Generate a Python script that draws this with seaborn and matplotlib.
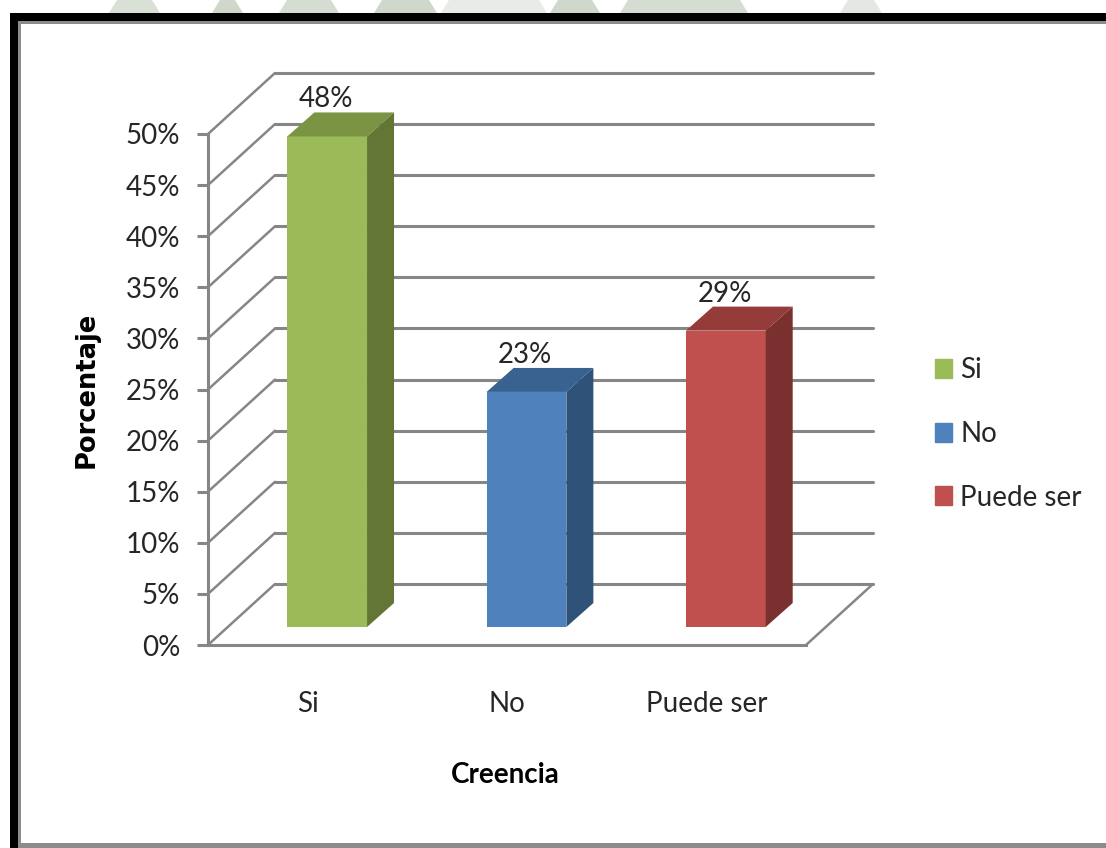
import matplotlib
matplotlib.use('Agg')
import matplotlib.pyplot as plt
import seaborn as sns
import pandas as pd
from matplotlib.patches import Polygon, Rectangle

categorias = ['Si', 'No', 'Puede ser']
porcentajes = [48, 23, 29]
etiquetas = ['48%', '23%', '29%']
colores = ['#9BBB59', '#4F81BD', '#C0504D']
colores_techo = ['#7A9443', '#3A6291', '#953B39']
colores_lado = ['#647636', '#2F5279', '#7A302E']
y_ticks = [0, 5, 10, 15, 20, 25, 30, 35, 40, 45, 50]
y_tick_labels = ['0%', '5%', '10%', '15%', '20%', '25%', '30%', '35%', '40%', '45%', '50%']

W, H = 1106, 848
GRIS = '#868686'
TEXTO = '#262626'

sns.set_theme(style='white')
plt.rcParams['font.family'] = ['Lato', 'DejaVu Sans']

fig = plt.figure(figsize=(W / 100, H / 100), dpi=100)
fig.patch.set_facecolor('white')

# front plane of the fake 3d box, pixels from the reference
ax = fig.add_axes([208 / W, 1 - 645 / H, (806 - 208) / W, (645 - 134) / H])
ax.patch.set_alpha(0)

df = pd.DataFrame({'Creencia': categorias, 'Porcentaje': porcentajes})
sns.barplot(data=df, x='Creencia', y='Porcentaje', hue='Creencia', palette=colores,
            width=0.4, saturation=1, legend=False, ax=ax, zorder=3)
ax.set_xlim(-0.5, 2.5)
ax.set_ylim(0, 50)

px_x = (806 - 208) / 3
px_y = (645 - 134) / 50

# wall depth and bar depth, converted to data units
fondo_x, fondo_y = 67 / px_x, 61 / px_y
lado_x, lado_y = 27 / px_x, 24 / px_y
salto_x, salto_y = 19.5 / px_x, 18 / px_y

for v in y_ticks:
    ax.plot([-0.5, -0.5 + fondo_x], [v, v + fondo_y], color=GRIS, lw=1.8, clip_on=False, zorder=1)
    ax.plot([-0.5 + fondo_x, 2.5 + fondo_x], [v + fondo_y, v + fondo_y], color=GRIS, lw=2.2,
            clip_on=False, zorder=1)
ax.plot([2.5, 2.5 + fondo_x], [0, fondo_y], color=GRIS, lw=1.8, clip_on=False, zorder=1)

for i, p in enumerate(ax.patches):
    p.set_x(p.get_x() + salto_x)
    p.set_y(salto_y)
    p.set_linewidth(0)
    p.set_edgecolor('none')
    p.set_clip_on(False)
    x0, x1 = p.get_x(), p.get_x() + p.get_width()
    y0, y1 = salto_y, salto_y + p.get_height()
    ax.add_patch(Polygon([(x0, y1), (x1, y1), (x1 + lado_x, y1 + lado_y), (x0 + lado_x, y1 + lado_y)],
                         color=colores_techo[i], lw=0, clip_on=False, zorder=3))
    ax.add_patch(Polygon([(x1, y0), (x1 + lado_x, y0 + lado_y), (x1 + lado_x, y1 + lado_y), (x1, y1)],
                         color=colores_lado[i], lw=0, clip_on=False, zorder=3))
    ax.annotate(etiquetas[i], xy=((x0 + x1) / 2, y1), xytext=(-1, 37 * 0.72), textcoords='offset points',
                ha='center', va='center', fontsize=20, color=TEXTO, zorder=5, annotation_clip=False)

ax.set_yticks(y_ticks)
ax.set_yticklabels(y_tick_labels)
ax.set_xticks(range(len(categorias)))
ax.set_xticklabels(categorias)
ax.tick_params(axis='y', which='major', left=True, length=8, width=2.2, color=GRIS, pad=12,
               labelsize=20, labelcolor=TEXTO)
ax.tick_params(axis='x', bottom=False, pad=27, labelsize=20, labelcolor=TEXTO)
for s in ['top', 'right']:
    ax.spines[s].set_visible(False)
for s in ['left', 'bottom']:
    ax.spines[s].set_color(GRIS)
    ax.spines[s].set_linewidth(2.2)
ax.set_xlabel('')
ax.set_ylabel('')

fig.text(87 / W, 1 - 390 / H, 'Porcentaje', rotation=90, ha='center', va='center',
         fontsize=18.5, fontweight='bold', color='black', family=['DejaVu Sans'])
fig.text(505 / W, 1 - 775 / H, 'Creencia', ha='center', va='center',
         fontsize=20, fontweight='bold', color='black')

# legend
handles = [Rectangle((0, 0), 1, 1, color=c) for c in colores]
fig.legend(handles, categorias, loc='center left', bbox_to_anchor=(935 / W, 1 - 434 / H), frameon=False,
           fontsize=20, labelcolor=TEXTO, handlelength=0.61, handleheight=0.68, handletextpad=0.3,
           labelspacing=1.35, borderpad=0, borderaxespad=0)

# faded watermark of the slide, only visible above the frame
for x_a, x_b, tono in [(109, 160, '#D9E0D6'), (212, 243, '#CFD8CB'), (279, 339, '#D5DCD1'),
                       (374, 437, '#CFD8CB'), (441, 547, '#E8EBE6'), (550, 600, '#CFD8CB'),
                       (620, 748, '#D5DCD1'), (840, 882, '#E4E8E2')]:
    fig.add_artist(Polygon([(x_a / W, 1 - 13 / H), (x_b / W, 1 - 13 / H),
                            ((x_b - 8) / W, 1), ((x_a + 8) / W, 1)],
                           color=tono, lw=0, transform=fig.transFigure))

# slide frame around the chart
fig.add_artist(Rectangle((10 / W, 1 - 848 / H), 8 / W, (848 - 13) / H, color='black', lw=0))
fig.add_artist(Rectangle((10 / W, 1 - 21 / H), (W - 10) / W, 8 / H, color='black', lw=0))
fig.add_artist(Rectangle((18 / W, 1 - 848 / H), 3 / W, (848 - 21) / H, color='#8C8C8C', lw=0))
fig.add_artist(Rectangle((18 / W, 1 - 24 / H), (W - 18) / W, 3 / H, color='#8C8C8C', lw=0))
fig.add_artist(Rectangle((18 / W, 0), (W - 18) / W, 5 / H, color='#8C8C8C', lw=0))

fig.savefig('out.png', dpi=100)
